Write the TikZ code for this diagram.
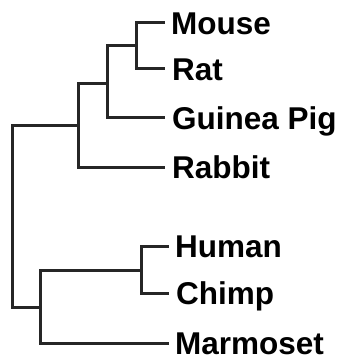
\documentclass[tikz,border=0pt]{standalone}
\usepackage{fontspec}
\setmainfont{Liberation Sans}
\begin{document}
\begin{tikzpicture}[x=1pt,y=-1pt,
  branch/.style={draw=black!85,line width=3pt,line cap=rect},
  leaf/.style={anchor=base west,inner sep=0pt,font=\fontsize{31.5}{32}\selectfont\bfseries}]
\useasboundingbox (0,0) rectangle (343,358);
% internal nodes
\coordinate (root) at (12,216);
\coordinate (rod) at (78,126);
\coordinate (mrg) at (107,84);
\coordinate (mr) at (136,46);
\coordinate (pri) at (40,307);
\coordinate (hc) at (141,270);
% leaf tips
\coordinate (tMouse) at (163,23);
\coordinate (tRat) at (163,69);
\coordinate (tGuinea) at (163,118);
\coordinate (tRabbit) at (163,167);
\coordinate (tHuman) at (167,246);
\coordinate (tChimp) at (167,293);
\coordinate (tMarmoset) at (167,343);
% labels
\node[leaf] (lMouse) at (171,34.3) {Mouse};
\node[leaf] (lRat) at (172,80.3) {Rat};
\node[leaf] (lGuinea) at (172,129.3) {Guinea Pig};
\node[leaf] (lRabbit) at (172,178.3) {Rabbit};
\node[leaf] (lHuman) at (175,257.3) {Human};
\node[leaf] (lChimp) at (176,304.3) {Chimp};
\node[leaf] (lMarmoset) at (175,354.3) {Marmoset};
% branches
\draw[branch] (root) |- (rod);
\draw[branch] (root) |- (pri);
\draw[branch] (rod) |- (mrg);
\draw[branch] (rod) |- (tRabbit);
\draw[branch] (mrg) |- (mr);
\draw[branch] (mrg) |- (tGuinea);
\draw[branch] (mr) |- (tMouse);
\draw[branch] (mr) |- (tRat);
\draw[branch] (pri) |- (hc);
\draw[branch] (pri) |- (tMarmoset);
\draw[branch] (hc) |- (tHuman);
\draw[branch] (hc) |- (tChimp);
\end{tikzpicture}
\end{document}
